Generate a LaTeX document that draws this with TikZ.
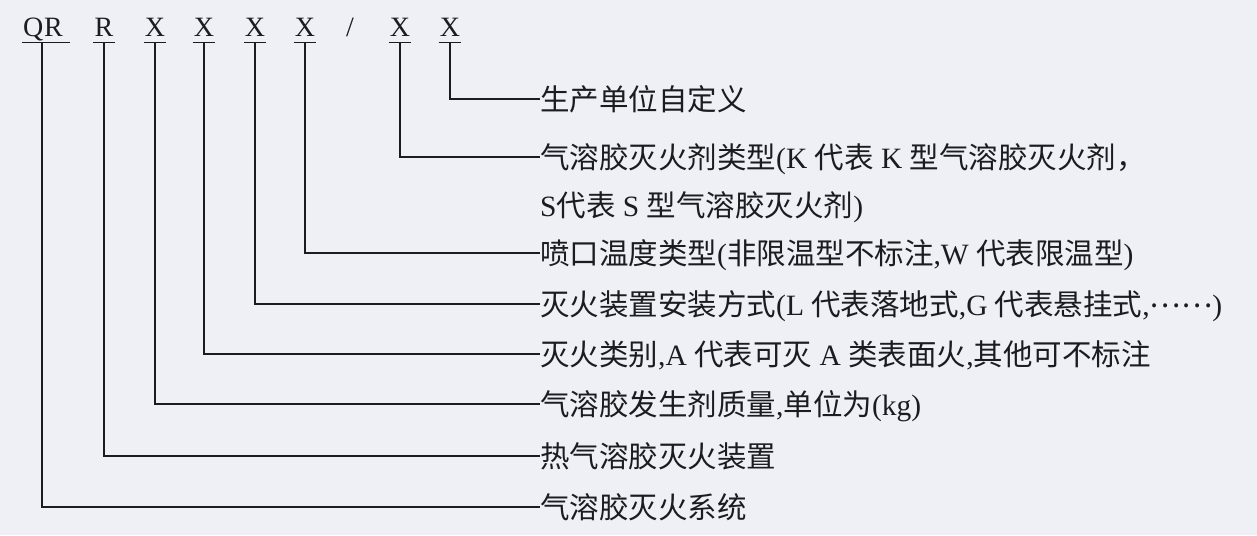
\documentclass[tikz,border=0pt]{standalone}
\usepackage{fontspec}
\setmainfont{Liberation Serif}
\newfontfamily\cjk{Noto Sans CJK SC}
\definecolor{bg}{RGB}{238,240,246}
\definecolor{ink}{RGB}{28,28,32}
\begin{document}
\begin{tikzpicture}[x=1pt,y=1pt,
  code/.style={font=\fontsize{28}{28}\selectfont, inner xsep=1pt, inner ysep=0pt, anchor=base, text=ink},
  lab/.style={font=\fontsize{29.5}{30}\selectfont, inner sep=0pt, anchor=west, text height=26pt, text depth=3.5pt, text=ink},
  wire/.style={draw=ink, line width=1.3pt},
  uline/.style={draw=ink, line width=1.2pt},
]
\fill[bg] (0,0) rectangle (1257,-535);
\useasboundingbox (0,0) rectangle (1257,-535);

% code letters
\node[code] (c1) at (43,-37) {Q\kern1pt R};
\node[code] (c2) at (104,-37) {R};
\node[code] (c3) at (155,-37) {X};
\node[code] (c4) at (204,-37) {X};
\node[code] (c5) at (255,-37) {X};
\node[code] (c6) at (305,-37) {X};
\node[code] (sl) at (350,-37) {/};
\node[code] (c7) at (400,-37) {X};
\node[code] (c8) at (450,-37) {X};

% underlines
\draw[uline] ([yshift=-5.5pt]c1.base west) -- ([xshift=6pt,yshift=-5.5pt]c1.base east);
\foreach \n in {c2,c3,c4,c5,c6,c7,c8}
  \draw[uline] ([yshift=-5.5pt]\n.base west) -- ([yshift=-5.5pt]\n.base east);

% label anchors
\coordinate (e1) at (540,-99);
\coordinate (e2) at (540,-157);
\coordinate (e2b) at (540,-205);
\coordinate (e3) at (540,-253);
\coordinate (e4) at (540,-304);
\coordinate (e5) at (540,-354);
\coordinate (e6) at (540,-404);
\coordinate (e7) at (540,-456);
\coordinate (e8) at (540,-507);

\node[lab] (l1) at (e1) {{\cjk 生产单位自定义}};
\node[lab] (l2) at (e2) {{\cjk 气溶胶灭火剂类型}(K {\cjk 代表} K {\cjk 型气溶胶灭火剂，}};
\node[lab] (l2b) at (e2b) {S{\cjk 代表} S {\cjk 型气溶胶灭火剂})};
\node[lab] (l3) at (e3) {{\cjk 喷口温度类型}({\cjk 非限温型不标注},W {\cjk 代表限温型})};
\node[lab] (l4) at (e4) {{\cjk 灭火装置安装方式}(L {\cjk 代表落地式},G {\cjk 代表悬挂式},\raisebox{8pt}{\cjk ……})};
\node[lab] (l5) at (e5) {{\cjk 灭火类别},A {\cjk 代表可灭} A {\cjk 类表面火},{\cjk 其他可不标注}};
\node[lab] (l6) at (e6) {{\cjk 气溶胶发生剂质量},{\cjk 单位为}(kg)};
\node[lab] (l7) at (e7) {{\cjk 热气溶胶灭火装置}};
\node[lab] (l8) at (e8) {{\cjk 气溶胶灭火系统}};

% connectors
\draw[wire] ([yshift=-5.5pt]c8.base) |- (l1.west);
\draw[wire] ([yshift=-5.5pt]c7.base) |- (l2.west);
\draw[wire] ([yshift=-5.5pt]c6.base) |- (l3.west);
\draw[wire] ([yshift=-5.5pt]c5.base) |- (l4.west);
\draw[wire] ([yshift=-5.5pt]c4.base) |- (l5.west);
\draw[wire] ([yshift=-5.5pt]c3.base) |- (l6.west);
\draw[wire] ([yshift=-5.5pt]c2.base) |- (l7.west);
\draw[wire] ([xshift=-1pt,yshift=-5.5pt]c1.base) |- (l8.west);
\end{tikzpicture}
\end{document}
